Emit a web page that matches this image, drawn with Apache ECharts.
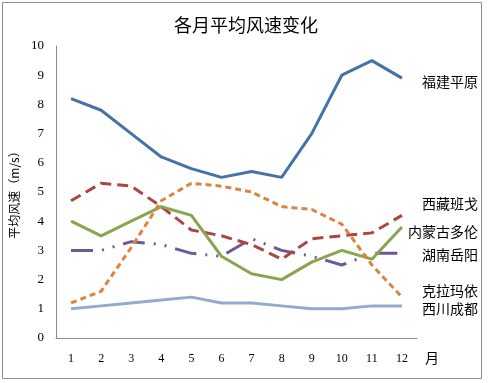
<!DOCTYPE html>
<html><head><meta charset="utf-8">
<script src="https://cdn.jsdelivr.net/npm/echarts@6/dist/echarts.min.js"></script>
<style>html,body{margin:0;padding:0;background:#fff}#c{width:492px;height:383px}</style>
</head><body><div id="c"></div>
<script>
var months = ['1','2','3','4','5','6','7','8','9','10','11','12'];
var names = ['福建平原','西藏班戈','内蒙古多伦','湖南岳阳','克拉玛依','西川成都'];
var fujian   = [8.2, 7.8, 7.0, 6.2, 5.8, 5.5, 5.7, 5.5, 7.0, 9.0, 9.5, 8.9];
var xizang   = [4.7, 5.3, 5.2, 4.5, 3.7, 3.5, 3.2, 2.7, 3.4, 3.5, 3.6, 4.2];
var neimeng  = [4.0, 3.5, 4.0, 4.5, 4.2, 2.8, 2.2, 2.0, 2.6, 3.0, 2.7, 3.8];
var hunan    = [3.0, 3.0, 3.3, 3.2, 2.9, 2.8, 3.4, 3.0, 2.8, 2.5, 2.9, 2.9];
var kelamayi = [1.2, 1.6, 3.1, 4.7, 5.3, 5.2, 5.0, 4.5, 4.4, 3.9, 2.5, 1.4];
var chengdu  = [1.0, 1.1, 1.2, 1.3, 1.4, 1.2, 1.2, 1.1, 1.0, 1.0, 1.1, 1.1];
var yTicks = [0,1,2,3,4,5,6,7,8,9,10];

var cjk = '"Noto Sans CJK SC", sans-serif';
var serif = '"Liberation Serif", "DejaVu Serif", serif';
var chart = echarts.init(document.getElementById('c'));
function mk(name, data, color, type, width, dy, z) {
  return {
    name: name, type: 'line', data: data, symbol: 'none', z: z,
    lineStyle: {color: color, width: width, type: type},
    itemStyle: {color: color},
    endLabel: {show: true, formatter: name, color: '#000', fontSize: 14, fontFamily: cjk,
      align: 'right', distance: 0, offset: [76, dy]},
    animation: false
  };
}
chart.setOption({
  backgroundColor: '#fff',
  animation: false,
  title: {text: '各月平均风速变化', left: 'center', top: 11,
    textStyle: {fontSize: 18, fontWeight: 'normal', color: '#000', fontFamily: cjk}},
  graphic: [{type: 'rect', shape: {x: 2.5, y: 2.5, width: 479, height: 376},
    style: {fill: 'none', stroke: '#8c8c8c', lineWidth: 1}, z: -1}],
  grid: {left: 56, right: 75, top: 46, bottom: 45},
  xAxis: {type: 'category', data: months, boundaryGap: true,
    axisLine: {lineStyle: {color: '#8c8c8c'}}, axisTick: {show: false},
    axisLabel: {color: '#000', fontSize: 12, fontFamily: serif, margin: 15},
    name: '月', nameLocation: 'end', nameGap: 8,
    nameTextStyle: {color: '#000', fontSize: 14, fontFamily: cjk, verticalAlign: 'top', padding: [13,0,0,0]}},
  yAxis: {type: 'value', min: 0, max: 10, interval: 1,
    axisLine: {show: true, lineStyle: {color: '#8c8c8c'}}, axisTick: {show: false},
    splitLine: {show: false},
    axisLabel: {color: '#000', fontSize: 13, fontFamily: serif, margin: 12,
      formatter: function(v){ return yTicks.indexOf(v) >= 0 ? String(v) : ''; }},
    name: '平均风速（m/s）', nameLocation: 'middle', nameGap: 33, nameRotate: 90,
    nameTextStyle: {color: '#000', fontSize: 12, fontFamily: cjk}},
  series: [
    mk(names[0], fujian, '#4572A7', 'solid', 3, 4, 6),
    mk(names[1], xizang, '#AA4643', [11, 6], 3, -12, 3),
    mk(names[2], neimeng, '#89A54E', 'solid', 3, 5, 4),
    mk(names[3], hunan, '#6E5A93', [22, 9, 2, 9, 2, 9], 3, 1, 2),
    mk(names[4], kelamayi, '#DB843D', [6, 4], 3, -6, 5),
    mk(names[5], chengdu, '#93A9CF', 'solid', 3, 3, 1)
  ]
});
</script></body></html>
